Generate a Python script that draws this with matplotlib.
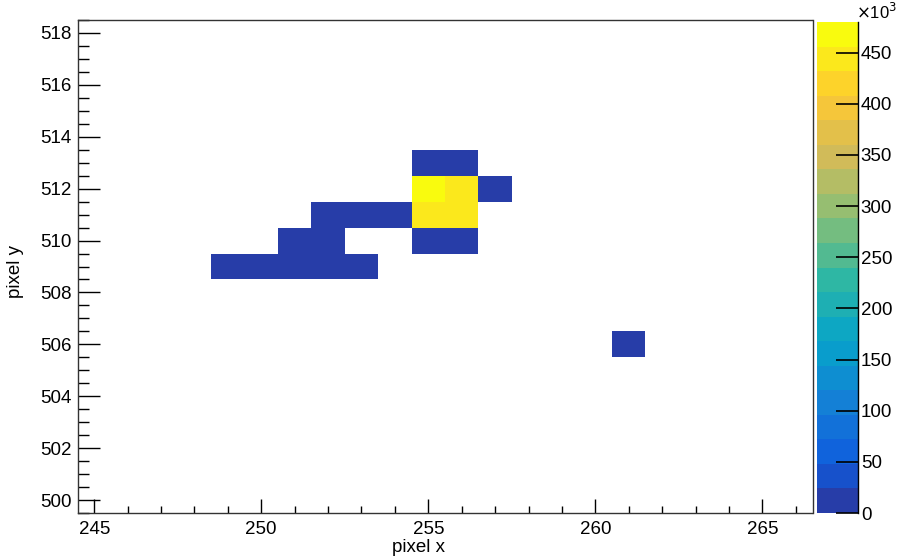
import numpy as np
import matplotlib
matplotlib.use("Agg")
import matplotlib.pyplot as plt
from matplotlib.colors import ListedColormap, BoundaryNorm
from matplotlib.ticker import MultipleLocator

plt.rcParams['font.family'] = ['Liberation Sans', 'DejaVu Sans']

# hit pixels and their summed counts
pix_x = [255, 256, 255, 256, 257, 252, 253, 254, 255, 256,
         251, 252, 255, 256, 249, 250, 251, 252, 253, 261]
pix_y = [513, 513, 512, 512, 512, 511, 511, 511, 511, 511,
         510, 510, 510, 510, 509, 509, 509, 509, 509, 506]
counts = [9000, 12000, 480000, 446000, 6000, 4000, 5000, 8000, 447000, 445000,
          3000, 6000, 11000, 10000, 2000, 3000, 4000, 3500, 2500, 5000]

x_range = (244.5, 266.5)
y_range = (499.5, 518.5)
z_max = 480000
n_levels = 20

# ROOT kBird palette
stops = [0.0, 0.125, 0.25, 0.375, 0.5, 0.625, 0.75, 0.875, 1.0]
red = [0.2082, 0.0592, 0.0780, 0.0232, 0.1802, 0.5301, 0.8186, 0.9956, 0.9764]
green = [0.1664, 0.3599, 0.5041, 0.6419, 0.7178, 0.7492, 0.7328, 0.7862, 0.9832]
blue = [0.5293, 0.8684, 0.8385, 0.7914, 0.6425, 0.4662, 0.3499, 0.1968, 0.0539]

level_cols = []
for i in range(n_levels):
    f = int((i + 0.99) * 255 / n_levels) / 254
    level_cols.append((np.interp(f, stops, red), np.interp(f, stops, green), np.interp(f, stops, blue)))
cmap = ListedColormap(level_cols)
levels = np.linspace(0, z_max, n_levels + 1)
norm = BoundaryNorm(levels, cmap.N)

xedges = np.arange(x_range[0], x_range[1] + 0.5, 1.0)
yedges = np.arange(y_range[0], y_range[1] + 0.5, 1.0)
H, _, _ = np.histogram2d(pix_x, pix_y, bins=[xedges, yedges], weights=counts)
H = np.ma.masked_equal(H.T, 0)

W, Hpx = 898, 558
fs = 13.5
fig = plt.figure(figsize=(W / 100, Hpx / 100), dpi=100)
ax = fig.add_axes([77.5 / W, 1 - 513 / Hpx, (812.5 - 77.5) / W, (513 - 20) / Hpx])
cax = fig.add_axes([817 / W, 1 - 513 / Hpx, (858 - 817) / W, (513 - 22) / Hpx])

ax.pcolormesh(xedges, yedges, H, cmap=cmap, norm=norm)
ax.set_xlim(*x_range)
ax.set_ylim(*y_range)

ax.xaxis.set_major_locator(MultipleLocator(5))
ax.xaxis.set_minor_locator(MultipleLocator(1))
ax.yaxis.set_major_locator(MultipleLocator(2))
ax.yaxis.set_minor_locator(MultipleLocator(0.5))
ax.tick_params(axis='x', which='major', direction='in', length=10, width=1, labelsize=fs, pad=6)
ax.tick_params(axis='x', which='minor', direction='in', length=5, width=1)
ax.tick_params(axis='y', which='major', direction='in', length=16, width=1, labelsize=fs, pad=4)
ax.tick_params(axis='y', which='minor', direction='in', length=8, width=1)
for s in ax.spines.values():
    s.set_linewidth(1)
    s.set_color('#333333')

fig.text(418 / W, 1 - 548 / Hpx, 'pixel x', ha='center', va='center', fontsize=fs)
fig.text(15 / W, 1 - 272 / Hpx, 'pixel y', ha='center', va='center', rotation=90, fontsize=fs)

# colour palette
cb = fig.colorbar(plt.cm.ScalarMappable(norm=norm, cmap=cmap), cax=cax, spacing='proportional')
cb.outline.set_visible(False)
cax.spines['right'].set_visible(True)
cax.spines['right'].set_linewidth(1)
cb.set_ticks(np.arange(0, 460000, 50000))
cb.set_ticklabels([str(v) for v in range(0, 460, 50)])
cax.yaxis.set_ticks_position('right')
cax.tick_params(axis='y', which='major', direction='in', length=16, width=1.2, labelsize=fs, pad=2)
cax.minorticks_off()
fig.text(856 / W, 1 - 22 / Hpx, r'$\times$10$^3$', ha='left', va='bottom', fontsize=12)

fig.savefig('out.png', dpi=100)
